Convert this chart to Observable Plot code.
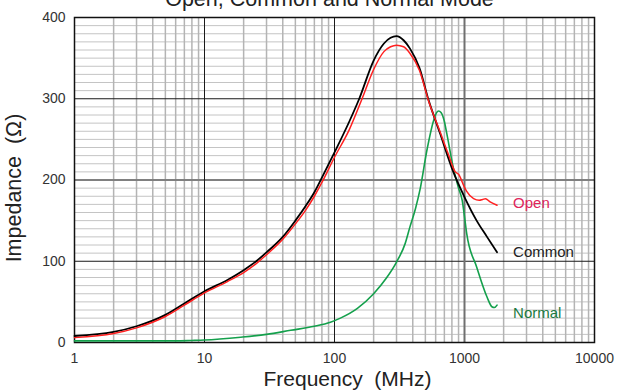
<!DOCTYPE html>
<html>
<head>
<meta charset="utf-8">
<script src="https://cdn.jsdelivr.net/npm/d3@7"></script>
<script src="https://cdn.jsdelivr.net/npm/@observablehq/plot@0.6"></script>
<style>
  html, body { margin: 0; padding: 0; background: #fff; }
  #chart { width: 620px; height: 390px; overflow: hidden; }
</style>
</head>
<body>
<div id="chart"></div>
<script>
// ---- data ----
const title = "Open, Common and Normal Mode";
const xLabel = "Frequency  (MHz)";
const yLabel = "Impedance  (Ω)";
const xTicks = [1, 10, 100, 1000, 10000];
const yTicks = [0, 100, 200, 300, 400];

const openF = [1, 2, 3, 5, 7, 10, 15, 20, 25, 30, 40, 50, 60, 70, 80, 100, 130, 163, 200, 240, 270, 300, 340, 380, 450, 530, 650, 750, 850, 900, 1000, 1040, 1175, 1300, 1380, 1450, 1575, 1780];
const openZ = [6, 11, 18, 32, 46, 61, 75, 86, 97, 108, 127, 146, 163, 180, 197, 228, 262, 300, 336, 358, 364, 366, 364, 356, 335, 297, 259, 232, 210, 207, 191, 186, 177, 175, 176, 177, 173, 169];

const commonF = [1, 2, 3, 5, 7, 10, 15, 20, 25, 30, 40, 50, 60, 70, 80, 100, 130, 155, 200, 240, 270, 300, 340, 380, 450, 530, 650, 820, 1000, 1240, 1490, 1780];
const commonZ = [8, 13, 20, 34, 48, 63, 77, 89, 100, 111, 130, 150, 168, 185, 203, 234, 272, 300, 347, 368, 375, 377, 372, 362, 338, 298, 257, 210, 179, 150, 130, 111];

const normalF = [1, 3, 6, 8, 10, 19, 30, 46, 70, 93, 111, 150, 200, 250, 300, 350, 380, 420, 456, 513, 578, 610, 631, 660, 700, 731, 823, 900, 960, 1000, 1040, 1240, 1490, 1625, 1700, 1780];
const normalZ = [2, 2, 2, 2.5, 3, 6.5, 10, 15, 20, 25, 30, 42, 60, 79, 99, 122, 142, 165, 189, 236, 273, 283, 285, 283, 272, 257, 214, 190, 175, 155, 134, 93, 56, 44, 43, 46];

// grid positions (minor: 2..9 per decade, every 10 Ω)
const xMajor = [10, 100, 1000];
const xMinor = [];
for (const d of [1, 10, 100, 1000]) for (let k = 2; k <= 9; k++) xMinor.push(d * k);
const yMajor = [100, 200, 300];
const yMinor = d3.range(10, 400, 10).filter(v => v % 100 !== 0);

const font = "'Liberation Sans', Arial, sans-serif";

const chart = Plot.plot({
  width: 620,
  height: 390,
  marginLeft: 74,
  marginRight: 26,
  marginTop: 17,
  marginBottom: 48,
  x: {type: "log", domain: [1, 10000]},
  y: {domain: [0, 400]},
  style: {fontFamily: font, background: "#fff", overflow: "visible"},
  marks: [
    Plot.ruleY(yMinor, {stroke: "#c4c4c4", strokeWidth: 1}),
    Plot.ruleX(xMinor, {stroke: "#b4b4b4", strokeWidth: 1.5}),
    Plot.ruleY(yMajor, {stroke: v => v === 200 ? "#808080" : "#1a1a1a", strokeWidth: v => v === 200 ? 2 : 1}),
    Plot.ruleX(xMajor, {stroke: v => v === 1000 ? "#707070" : "#1a1a1a", strokeWidth: v => v === 1000 ? 2 : 1}),
    Plot.frame({stroke: "#111", strokeWidth: 1.5}),
    Plot.line(normalZ, {x: normalF, y: normalZ, stroke: "#14a04c", strokeWidth: 1.6, curve: "monotone-x"}),
    Plot.line(commonZ, {x: commonF, y: commonZ, stroke: "#000", strokeWidth: 1.8, curve: "monotone-x"}),
    Plot.line(openZ, {x: openF, y: openZ, stroke: "#ff1f1f", strokeWidth: 1.5, curve: "monotone-x"}),
    Plot.text(openZ, Plot.selectLast({x: openF, y: openZ, text: () => "Open", textAnchor: "start", dx: 16, dy: -2, fill: "#e0245a", fontSize: 15})),
    Plot.text(commonZ, Plot.selectLast({x: commonF, y: commonZ, text: () => "Common", textAnchor: "start", dx: 16, dy: 0, fill: "#222", fontSize: 15})),
    Plot.text(normalZ, Plot.selectLast({x: normalF, y: normalZ, text: () => "Normal", textAnchor: "start", dx: 16, dy: 8, fill: "#1b7a40", fontSize: 15})),
    Plot.axisX({ticks: xTicks, tickSize: 0, tickPadding: 11, fontSize: 14, fill: "#333", tickFormat: d => String(d), label: null}),
    Plot.axisY({ticks: yTicks, tickSize: 0, tickPadding: 9, fontSize: 14, fill: "#333", fontWeight: d => d === 400 ? "bold" : "normal", label: null}),
    Plot.text([title], {text: d => d, frameAnchor: "top", textAnchor: "middle", lineAnchor: "bottom", dy: -12, dx: -5, fontSize: 21.5, fill: "#222"}),
    Plot.text([xLabel], {text: d => d, frameAnchor: "bottom", textAnchor: "middle", lineAnchor: "bottom", dy: 43, dx: 13, fontSize: 21, fill: "#222"}),
    Plot.text([yLabel], {text: d => d, frameAnchor: "left", textAnchor: "middle", rotate: -90, dx: -60, dy: 8, fontSize: 21.5, fill: "#222"})
  ]
});
chart.querySelectorAll("text").forEach(t => t.setAttribute("xml:space", "preserve"));
chart.style.whiteSpace = "pre";
document.getElementById("chart").appendChild(chart);
</script>
</body>
</html>
